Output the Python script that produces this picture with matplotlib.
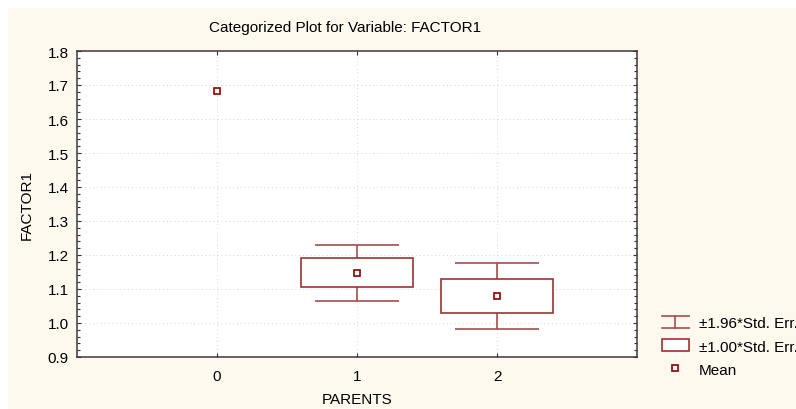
# -*- coding: utf-8 -*-
import numpy as np
import matplotlib
matplotlib.use("Agg")
import matplotlib.pyplot as plt
from matplotlib.patches import Rectangle
from matplotlib.lines import Line2D
from matplotlib.legend_handler import HandlerBase
from matplotlib.ticker import MultipleLocator

plt.rcParams['font.family'] = ['Liberation Sans', 'DejaVu Sans']

# data
parents = [0, 1, 2]
means = [1.682, 1.148, 1.079]
std_err = [np.nan, 0.042, 0.049]   # group 0 has no spread

red = '#9e3030'
whisk = '#a84c4c'
cream = '#fdf9ee'
fs = 11


class WhiskerHandler(HandlerBase):
    # legend icon: cap - stem - cap
    def create_artists(self, legend, orig, xd, yd, w, h, fontsize, trans):
        x0, x1 = -xd, -xd + w
        y0, y1 = -yd, -yd + h
        xm = (x0 + x1) / 2
        arts = []
        for xs, ys in [([x0, x1], [y1, y1]), ([x0, x1], [y0, y0]), ([xm, xm], [y0, y1])]:
            ln = Line2D(xs, ys, color=whisk, lw=1.2)
            ln.set_transform(trans)
            arts.append(ln)
        return arts


fig = plt.figure(figsize=(7.96, 4.10), dpi=100)
fig.patch.set_facecolor(cream)
# white strips along the top and left edge
fig.patches.append(Rectangle((0, 1 - 9 / 410), 1, 9 / 410, transform=fig.transFigure,
                             facecolor='white', edgecolor='none', zorder=-10))
fig.patches.append(Rectangle((0, 0), 8 / 796, 1, transform=fig.transFigure,
                             facecolor='white', edgecolor='none', zorder=-10))

ax = fig.add_axes([77 / 796, 52 / 410, 560 / 796, 306 / 410])
ax.set_facecolor('white')

for x, m, s in zip(parents, means, std_err):
    if not np.isnan(s):
        lo, hi = m - s, m + s
        wlo, whi = m - 1.96 * s, m + 1.96 * s
        ax.vlines(x, hi, whi, color=whisk, lw=1.2, zorder=3)
        ax.vlines(x, wlo, lo, color=whisk, lw=1.2, zorder=3)
        ax.hlines([wlo, whi], x - 0.3, x + 0.3, color=whisk, lw=1.2, zorder=3)
        ax.add_patch(Rectangle((x - 0.4, lo), 0.8, hi - lo, facecolor='white',
                               edgecolor=red, lw=1.2, zorder=3))
    ax.plot(x, m, 's', ms=5, mfc='white', mec='#8b0000', mew=1.2, zorder=4)

ax.set_xlim(-1, 3)
ax.set_ylim(0.9, 1.8)
ax.set_xticks(parents)
ax.yaxis.set_major_locator(MultipleLocator(0.1))
ax.yaxis.set_minor_locator(MultipleLocator(0.02))
ax.yaxis.set_major_formatter(matplotlib.ticker.FormatStrFormatter('%.1f'))
ax.grid(True, which='major', ls=(0, (1, 3)), color='#d4d4d4', lw=0.7)
ax.tick_params(which='both', direction='in', right=True, top=True,
               labelsize=fs, color='#333333', width=0.8)
ax.tick_params(which='major', length=3)
ax.tick_params(which='minor', length=2)
ax.tick_params(axis='x', pad=9)
ax.tick_params(axis='y', pad=6)
for sp in ax.spines.values():
    sp.set_color('#3a3a3a')
    sp.set_linewidth(1.1)

ax.set_xlabel('PARENTS', fontsize=fs)
ax.xaxis.set_label_coords(0.5, (358 - 400) / 306)
ax.xaxis.label.set_va('center')
ax.set_ylabel('FACTOR1', fontsize=fs)
ax.yaxis.set_label_coords((27 - 77) / 560, 0.5)
ax.yaxis.label.set_va('center')
ax.text((345.5 - 77) / 560, (358 - 28) / 306, 'Categorized Plot for Variable: FACTOR1',
        transform=ax.transAxes, ha='center', va='center', fontsize=fs)

h_whisk = Line2D([], [])
h_box = Rectangle((0, 0), 1, 1, facecolor='white', edgecolor=red, lw=1.2)
h_mean = Line2D([], [], ls='none', marker='s', ms=5, mfc='white', mec='#8b0000', mew=1.2)
fig.legend([h_whisk, h_box, h_mean],
           ['\u00b11.96*Std. Err.', '\u00b11.00*Std. Err.', 'Mean'],
           handler_map={h_whisk: WhiskerHandler()},
           loc='upper left', bbox_to_anchor=(662 / 796, 1 - 317 / 410),
           frameon=False, fontsize=fs, handlelength=1.75, handleheight=0.85,
           handletextpad=0.65, labelspacing=0.58, borderpad=0, borderaxespad=0)

fig.savefig('out.png', dpi=100, facecolor=fig.get_facecolor())
